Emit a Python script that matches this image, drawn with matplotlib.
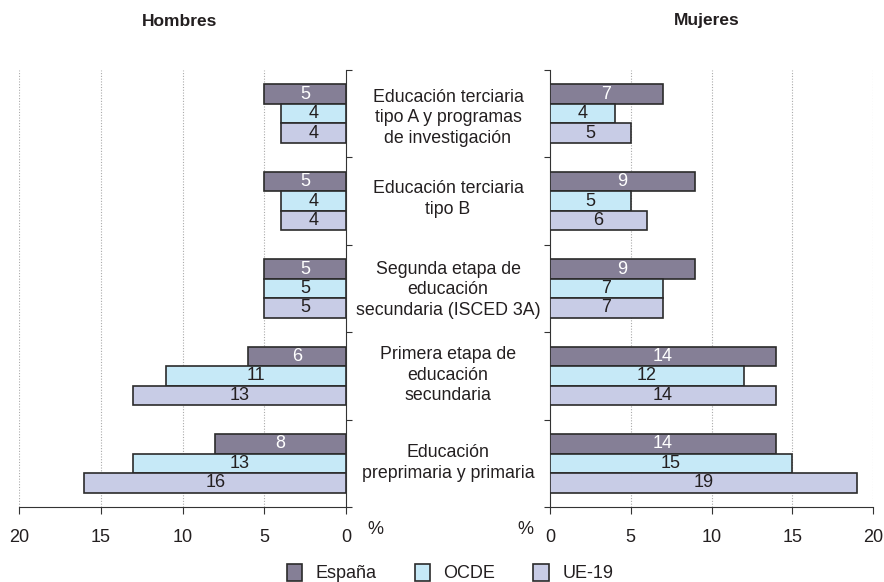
import matplotlib
matplotlib.use("Agg")
import matplotlib.pyplot as plt
from matplotlib.patches import Patch

plt.rcParams["font.family"] = ["Liberation Sans", "DejaVu Sans"]

# categories, top to bottom
categories = [
    "Educación terciaria\ntipo A y programas\nde investigación",
    "Educación terciaria\ntipo B",
    "Segunda etapa de\neducación\nsecundaria (ISCED 3A)",
    "Primera etapa de\neducación\nsecundaria",
    "Educación\npreprimaria y primaria",
]
series = ["España", "OCDE", "UE-19"]

hombres = {
    "España": [5, 5, 5, 6, 8],
    "OCDE": [4, 4, 5, 11, 13],
    "UE-19": [4, 4, 5, 13, 16],
}
mujeres = {
    "España": [7, 9, 9, 14, 14],
    "OCDE": [4, 5, 7, 12, 15],
    "UE-19": [5, 6, 7, 14, 19],
}

colors = {"España": "#857f96", "OCDE": "#c6e9f7", "UE-19": "#c8cce6"}
text_colors = {"España": "white", "OCDE": "#231f20", "UE-19": "#231f20"}
edge = "#2b2b2b"
ink = "#231f20"
bar_h = 0.223

fig = plt.figure(figsize=(8.84, 5.82), dpi=100)
ax_l = fig.add_axes([19 / 884, 1 - 507 / 582, 327 / 884, 437 / 582])
ax_r = fig.add_axes([550 / 884, 1 - 507 / 582, 323 / 884, 437 / 582])


def draw(ax, data, left_side):
    for i, s in enumerate(series):
        ys = [k + 0.5 + (i - 1) * bar_h for k in range(len(categories))]
        ax.barh(ys, data[s], height=bar_h, color=colors[s], edgecolor=edge,
                linewidth=1.2, zorder=3)
        for y, v in zip(ys, data[s]):
            ax.text(v / 2, y, str(v), ha="center", va="center", fontsize=13,
                    color=text_colors[s], zorder=4)
    for g in (5, 10, 15, 20):
        ax.axvline(g, color="#aaaaaa", linestyle=(0, (1, 1.5)), linewidth=0.8,
                   zorder=1)
    ax.set_ylim(len(categories), 0)
    ax.set_yticks(range(len(categories) + 1))
    ax.set_yticklabels([])
    ax.set_xticks([0, 5, 10, 15, 20])
    ax.tick_params(axis="x", labelsize=13, length=5, color="#333333",
                   labelcolor=ink, pad=11)
    ax.tick_params(axis="y", length=4, color="#333333", direction="out")
    ax.spines["top"].set_visible(False)
    ax.spines["bottom"].set_color("#333333")
    if left_side:
        ax.set_xlim(20, 0)
        ax.spines["left"].set_visible(False)
        ax.spines["right"].set_color("#333333")
        ax.yaxis.tick_right()
    else:
        ax.set_xlim(0, 20)
        ax.spines["right"].set_visible(False)
        ax.spines["left"].set_color("#333333")
        ax.yaxis.tick_left()


draw(ax_l, hombres, True)
draw(ax_r, mujeres, False)

fig.text(180 / 884, 1 - 21 / 582, "Hombres", ha="center", va="center",
         fontsize=12.5, fontweight="bold", color=ink)
fig.text(707 / 884, 1 - 21 / 582, "Mujeres", ha="center", va="center",
         fontsize=12.5, fontweight="bold", color=ink)
fig.text(375 / 884, 1 - 530 / 582, "%", ha="center", va="center",
         fontsize=13, color=ink)
fig.text(525 / 884, 1 - 530 / 582, "%", ha="center", va="center",
         fontsize=13, color=ink)

centers = [118, 199, 290, 375, 463]
for lab, cy in zip(categories, centers):
    fig.text(448 / 884, 1 - cy / 582, lab, ha="center", va="center",
             fontsize=12.8, color=ink, linespacing=1.3)

handles = [Patch(facecolor=colors[s], edgecolor=edge, linewidth=1.2, label=s)
           for s in series]
fig.legend(handles=handles, loc="center", bbox_to_anchor=(0.509, 1 - 573 / 582),
           ncol=3, frameon=False, fontsize=13, handlelength=0.85,
           handleheight=1.1, columnspacing=2.1, handletextpad=0.75,
           labelcolor=ink)

fig.savefig("out.png", dpi=100)
